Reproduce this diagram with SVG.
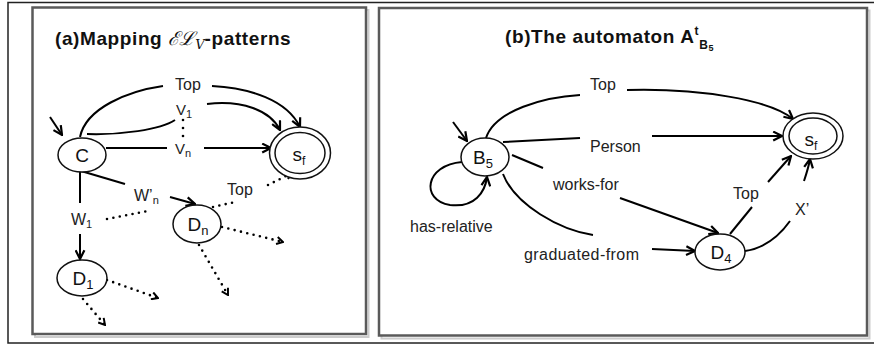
<svg xmlns="http://www.w3.org/2000/svg" width="874" height="348" viewBox="0 0 874 348">
<style>
.frame{fill:none;stroke:#222;stroke-width:1.5}
.box{fill:#fff;stroke:#5a5a5a;stroke-width:2.5}
.shadow{fill:none;stroke:#ccc;stroke-width:2}
.node{fill:#fff;stroke:#111;stroke-width:1.5}
.e{fill:none;stroke:#000;stroke-width:2}
.d{fill:none;stroke:#000;stroke-width:2.6;stroke-dasharray:0 6.5;stroke-linecap:round}
.t{font-family:"Liberation Sans",Arial,sans-serif;font-size:16px;fill:#222}
.v{font-family:"Liberation Sans",Arial,sans-serif;font-size:15px;fill:#222}
.n{font-family:"Liberation Sans",Arial,sans-serif;font-size:19px;fill:#111;text-anchor:middle}
.ti{font-family:"Liberation Sans",Arial,sans-serif;font-size:19px;font-weight:bold;fill:#111;letter-spacing:0.6px}
</style>
<defs>
<marker id="ah" viewBox="0 0 10 10" refX="9" refY="5" markerWidth="11" markerHeight="11" markerUnits="userSpaceOnUse" orient="auto">
<path d="M1,1 L9,5 L1,9" fill="none" stroke="#000" stroke-width="2"/>
</marker>
<marker id="dh" viewBox="0 0 10 10" refX="9" refY="5" markerWidth="9" markerHeight="9" markerUnits="userSpaceOnUse" orient="auto">
<path d="M2,1 L9,5 L2,9" fill="none" stroke="#000" stroke-width="2.2"/>
</marker>
</defs>
<rect x="0" y="0" width="874" height="348" fill="#fff"/>
<rect class="frame" x="8" y="2.5" width="872" height="340.5"/>
<rect class="shadow" x="35" y="10" width="333.5" height="327"/>
<rect class="box" x="32.5" y="7.5" width="333.5" height="326.5"/>
<rect class="shadow" x="381.5" y="10.5" width="488" height="328"/>
<rect class="box" x="379" y="8" width="488" height="327.5"/>

<!-- Panel (a) -->
<text class="ti" x="55" y="45">(a)Mapping <tspan font-family="DejaVu Serif,serif" font-style="italic" font-weight="normal" letter-spacing="0">ℰℒ</tspan><tspan font-family="DejaVu Serif,serif" font-style="italic" font-weight="normal" font-size="13px" dy="4" letter-spacing="0">V</tspan><tspan dy="-4">-patterns</tspan></text>

<g id="edges-a">
<path class="e" d="M50,117 L62,135" marker-end="url(#ah)"/>
<path class="e" d="M80,137 C 86,108 128,91 163,86"/>
<path class="e" d="M212,86 C 250,88 287,100 300,127" marker-end="url(#ah)"/>
<path class="e" d="M87,134 C 120,135 160,130 175,120"/>
<path class="e" d="M207,104 C 242,100 270,110 280,130" marker-end="url(#ah)"/>
<path class="e" d="M106,148 L167,148"/>
<path class="e" d="M204,148 L271,148" marker-end="url(#ah)"/>
<circle cx="183" cy="120" r="1.3" fill="#000"/>
<circle cx="183" cy="128" r="1.3" fill="#000"/>
<circle cx="183" cy="136" r="1.3" fill="#000"/>
<path class="e" d="M80,172 L80,203"/>
<path class="e" d="M80,234 L80,259" marker-end="url(#ah)"/>
<path class="e" d="M81,171 L125,184"/>
<path class="e" d="M170,197 L195,204" marker-end="url(#ah)"/>
<path class="d" d="M107,219 L148,211"/>
<path class="d" d="M213,207 L235,202"/>
<path class="d" d="M268,185 L292,173" marker-end="url(#dh)"/>
<path class="d" d="M222,227 L283,242" marker-end="url(#dh)"/>
<path class="d" d="M199,245 L228,295" marker-end="url(#dh)"/>
<path class="d" d="M107,280 L158,298" marker-end="url(#dh)"/>
<path class="d" d="M83,299 L105,325" marker-end="url(#dh)"/>
<text class="t" x="175" y="90">Top</text>
<text class="v" x="176" y="115">V<tspan font-size="11px" dy="3">1</tspan></text>
<text class="v" x="175" y="154">V<tspan font-size="11px" dy="3">n</tspan></text>
<text class="t" x="71" y="225" font-size="15px">W<tspan font-size="11px" dy="3">1</tspan></text>
<text class="t" x="134" y="201" font-size="15px">W’<tspan font-size="11px" dy="3">n</tspan></text>
<text class="t" x="227" y="195">Top</text>
</g>

<g id="node-C">
<ellipse class="node" cx="82" cy="155" rx="24" ry="17"/>
<text class="n" x="82" y="162">C</text>
</g>
<g id="node-sf-a">
<ellipse class="node" cx="300" cy="153" rx="30.5" ry="26"/>
<ellipse class="node" cx="300" cy="153" rx="25" ry="20.5"/>
<text class="n" x="299" y="161">s<tspan font-size="12px" dy="4">f</tspan></text>
</g>
<g id="node-Dn">
<ellipse class="node" cx="197" cy="224" rx="24" ry="19"/>
<text class="n" x="198" y="231">D<tspan font-size="13px" dy="4">n</tspan></text>
</g>
<g id="node-D1">
<ellipse class="node" cx="82" cy="278" rx="25" ry="18"/>
<text class="n" x="83" y="285">D<tspan font-size="13px" dy="4">1</tspan></text>
</g>

<!-- Panel (b) -->
<text class="ti" x="505" y="43">(b)The automaton A<tspan font-size="12px" dy="-8">t</tspan><tspan font-size="12px" dy="14">B</tspan><tspan font-size="9px" dy="2">5</tspan></text>

<g id="edges-b">
<path class="e" d="M453,122 L467,141" marker-end="url(#ah)"/>
<path class="e" d="M486,138 C 495,110 545,97 580,95"/>
<path class="e" d="M627,90 C 700,88 770,100 793,119" marker-end="url(#ah)"/>
<path class="e" d="M503,142 L580,138"/>
<path class="e" d="M652,136 L782,136" marker-end="url(#ah)"/>
<path class="e" d="M512,155 L543,168"/>
<path class="e" d="M620,198 L718,233" marker-end="url(#ah)"/>
<path class="e" d="M503,174 C 515,205 560,230 593,235"/>
<path class="e" d="M652,249 L695,251" marker-end="url(#ah)"/>
<path class="e" d="M730,234 L752,207"/>
<path class="e" d="M768,182 L791,156" marker-end="url(#ah)"/>
<path class="e" d="M745,251 C 765,248 780,235 790,221"/>
<path class="e" d="M804,181 C 807,172 809,165 810,159" marker-end="url(#ah)"/>
<path class="e" d="M462,162 C 425,165 420,200 450,205 C 475,208 485,192 487,177" marker-end="url(#ah)"/>
<text class="t" x="590" y="90">Top</text>
<text class="t" x="590" y="152">Person</text>
<text class="t" x="553" y="190">works-for</text>
<text class="t" x="524" y="260" textLength="115">graduated-from</text>
<text class="t" x="733" y="199">Top</text>
<text class="t" x="795" y="215">X’</text>
<text class="t" x="410" y="232">has-relative</text>
</g>

<g id="node-B5">
<ellipse class="node" cx="485" cy="157" rx="24" ry="19"/>
<text class="n" x="483" y="164">B<tspan font-size="13px" dy="4">5</tspan></text>
</g>
<g id="node-sf-b">
<ellipse class="node" cx="813" cy="136" rx="30" ry="23"/>
<ellipse class="node" cx="813" cy="136" rx="24" ry="18"/>
<text class="n" x="811" y="146">s<tspan font-size="12px" dy="4">f</tspan></text>
</g>
<g id="node-D4">
<ellipse class="node" cx="720" cy="252" rx="25" ry="18"/>
<text class="n" x="721" y="259">D<tspan font-size="13px" dy="4">4</tspan></text>
</g>
</svg>
